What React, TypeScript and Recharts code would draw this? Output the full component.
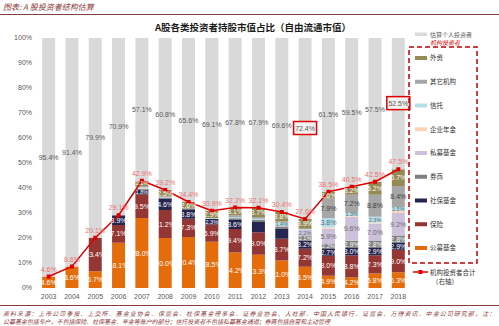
import React from 'react'
import {
  ComposedChart,
  Bar,
  Line,
  XAxis,
  YAxis,
  LabelList,
} from 'recharts'

const years = ['2003', '2004', '2005', '2006', '2007', '2008', '2009', '2010', '2011', '2012', '2013', '2014', '2015', '2016', '2017', '2018']

// institutional holdings, % of free-float market cap (stack order bottom -> top)
const publicFunds = [4.6, 8.6, 6.7, 18.1, 28.0, 20.0, 20.4, 18.5, 14.2, 13.3, 11.0, 8.5, 4.9, 4.2, 5.8, 6.3]
const insurance = [0, 0, 13.4, 7.1, 9.5, 11.2, 7.3, 6.9, 9.4, 9.0, 8.7, 7.2, 8.0, 8.8, 7.3, 9.0]
const socialSecurity = [0, 0, 0, 3.9, 1.8, 4.6, 3.8, 2.3, 3.6, 4.1, 4.1, 3.2, 2.7, 3.0, 2.9, 2.9]
const brokers = [0, 0, 0, 0, 0.4, 0.3, 0, 0, 0.7, 0.8, 0.6, 2.1, 2.2, 2.9, 2.8, 2.8]
const privateFunds = [0, 0, 0, 0, 0, 0, 0, 0, 0, 0, 0.4, 2.2, 5.9, 9.6, 7.0, 9.2]
const pension = [0, 0, 0, 0, 0.2, 0, 0, 0, 0, 0, 0, 0, 0.5, 0.3, 0.4, 0.7]
const trusts = [0, 0, 0, 0, 0.4, 0.2, 0, 0.3, 0.4, 0.5, 1.4, 0.5, 3.8, 1.3, 2.3, 1.5]
const otherInst = [0, 0, 0, 0, 0.5, 0.4, 0.3, 0, 0.8, 0.7, 0.4, 0, 7.9, 7.2, 8.8, 8.4]
const foreign = [0, 0, 0, 0, 2.1, 2.5, 2.6, 2.9, 3.1, 3.7, 3.8, 3.9, 2.6, 3.2, 5.2, 6.7]

const individual = [95.4, 91.4, 79.9, 70.9, 57.1, 60.8, 65.6, 69.1, 67.8, 67.9, 69.6, 72.4, 61.5, 59.5, 57.5, 52.5]
const institutionalTotal = [4.6, 8.6, 20.1, 29.1, 42.9, 39.2, 34.4, 30.9, 32.2, 32.1, 30.4, 27.6, 38.5, 40.5, 42.5, 47.5]

const highlightYears = ['2014', '2018']
const socialNoLabel = ['2009', '2010']

const series = [
  { key: 'publicFunds', name: '公募基金', color: '#e46c0a', text: '#ffffff', values: publicFunds },
  { key: 'insurance', name: '保险', color: '#943634', text: '#ffffff', values: insurance },
  { key: 'socialSecurity', name: '社保基金', color: '#25254f', text: '#ffffff', values: socialSecurity },
  { key: 'brokers', name: '券商', color: '#7f7f7f', text: '#ffffff', values: brokers },
  { key: 'privateFunds', name: '私募基金', color: '#ccc0da', text: '#6d6d6d', values: privateFunds },
  { key: 'pension', name: '企业年金', color: '#fcd5b5', text: '#6d6d6d', values: pension },
  { key: 'trusts', name: '信托', color: '#b7dee8', text: '#4f6f78', values: trusts },
  { key: 'otherInst', name: '其它机构', color: '#a6a6a6', text: '#404040', values: otherInst },
  { key: 'foreign', name: '外资', color: '#948a54', text: '#ffffff', values: foreign },
]

const data = years.map((year, i) => {
  const row: Record<string, any> = { year, individual: individual[i], total: institutionalTotal[i] }
  series.forEach((s) => {
    row[s.key] = s.values[i]
  })
  return row
})

const numFont = '"Liberation Sans", Arial, sans-serif'
const cjkFont = '"Noto Sans CJK SC", sans-serif'

function segLabel(color: string, key: string) {
  return (props: any) => {
    const { x, y, width, height, value, index } = props
    if (!value || value < 1.3) return null
    if (key === 'socialSecurity' && socialNoLabel.includes(years[index])) return null
    // thin segments get a slightly smaller label so neighbours don't collide
    const small = height < 6
    return (
      <text
        x={x + width / 2}
        y={y + height / 2}
        dy={small ? 2 : 2.5}
        textAnchor="middle"
        fontSize={small ? 5.5 : 7}
        fontFamily={numFont}
        fill={color}
      >
        {value.toFixed(1)}%
      </text>
    )
  }
}

function individualLabel(props: any) {
  const { x, y, width, height, value, index } = props
  const cx = x + width / 2
  const cy = y + height / 2
  const boxed = highlightYears.includes(years[index])
  return (
    <g>
      {boxed && (
        <rect x={cx - 11.5} y={cy - 7} width={23} height={13} fill="#f2f2f2" stroke="#e00000" strokeWidth={1.5} />
      )}
      <text x={cx} y={cy} dy={2.5} textAnchor="middle" fontSize={7} fontFamily={numFont} fill="#595959">
        {value.toFixed(1)}%
      </text>
    </g>
  )
}

function SquareDot(props: any) {
  const { cx, cy } = props
  return <rect x={cx - 2} y={cy - 2} width={4} height={4} fill="#e00000" />
}

const legendTop = 58
const legendStep = 23.75

export default function App() {
  const legendItems = [...series].reverse()
  return (
    <div style={{ position: 'absolute', left: 0, top: 0, width: 499, height: 326, background: '#fff' }}>
      <ComposedChart
        width={499}
        height={326}
        data={data}
        margin={{ top: 38, right: 89, bottom: 18, left: 0 }}
        barCategoryGap="22%"
      >
        <XAxis
          dataKey="year"
          axisLine={false}
          tickLine={false}
          tickMargin={0}
          height={20}
          interval={0}
          tick={{ fontSize: 7, fill: '#595959', fontFamily: numFont }}
        />
        <YAxis
          width={37}
          domain={[0, 100]}
          ticks={[0, 10, 20, 30, 40, 50, 60, 70, 80, 90, 100]}
          tickFormatter={(v) => `${v}%`}
          axisLine={false}
          tickLine={false}
          tickSize={2}
          tickMargin={3}
          tick={{ fontSize: 7, fill: '#595959', fontFamily: numFont }}
        />
        {series.map((s) => (
          <Bar key={s.key} dataKey={s.key} stackId="a" fill={s.color} isAnimationActive={false}>
            <LabelList dataKey={s.key} content={segLabel(s.text, s.key)} />
          </Bar>
        ))}
        <Bar dataKey="individual" stackId="a" fill="#d9d9d9" isAnimationActive={false}>
          <LabelList dataKey="individual" content={individualLabel} />
        </Bar>
        <Line
          dataKey="total"
          stroke="#e00000"
          strokeWidth={1.5}
          dot={<SquareDot />}
          activeDot={false}
          isAnimationActive={false}
        >
          <LabelList
            dataKey="total"
            position="top"
            offset={5}
            formatter={(v: any) => `${Number(v).toFixed(1)}%`}
            style={{ fontSize: 7, fill: '#ec7070', fontFamily: numFont }}
          />
        </Line>
      </ComposedChart>

      <svg width={499} height={326} style={{ position: 'absolute', left: 0, top: 0, pointerEvents: 'none' }}>
        <text x={3} y={10} fontSize={8} fontStyle="italic" fontFamily={cjkFont} fill="#8b3a3a">
          图表: A 股投资者结构估算
        </text>
        <line x1={0} x2={499} y1={14.5} y2={14.5} stroke="#7f4040" strokeWidth={1.2} />
        <text x={253} y={30.5} textAnchor="middle" fontSize={9.5} fontWeight="bold" fontFamily={cjkFont} fill="#1a1a1a">
          A股各类投资者持股市值占比（自由流通市值）
        </text>

        <rect x={415} y={32.5} width={12} height={3.5} fill="#d9d9d9" />
        <text x={430} y={36.5} fontSize={6} fontFamily={cjkFont} fill="#595959">估算个人投资者</text>
        <text x={430} y={44.5} fontSize={6} fontStyle="italic" fontFamily={cjkFont} fill="#e00000">机构投资者</text>
        <rect x={409} y={47} width={68} height={216} fill="none" stroke="#c00000" strokeWidth={1.5} strokeDasharray="5 3" />
        {legendItems.map((s, i) => {
          const cy = legendTop + i * legendStep
          return (
            <g key={s.key}>
              <rect x={415} y={cy - 2} width={12} height={4} fill={s.color} />
              <text x={430} y={cy + 2.3} fontSize={6.5} fontFamily={cjkFont} fill="#333">{s.name}</text>
            </g>
          )
        })}
        <line x1={413} x2={428} y1={272} y2={272} stroke="#e00000" strokeWidth={1.5} />
        <rect x={418.5} y={270} width={4} height={4} fill="#e00000" />
        <text x={430} y={274.5} fontSize={6.5} fontFamily={cjkFont} fill="#333">机构投资者合计</text>
        <text x={432} y={284} fontSize={6.5} fontFamily={cjkFont} fill="#333">（右轴）</text>

        <line x1={0} x2={499} y1={305.5} y2={305.5} stroke="#8b3a3a" strokeWidth={1} />
        <text x={3} y={316} fontSize={6} fontStyle="italic" fontFamily={cjkFont} fill="#8b3a3a" textLength={492} lengthAdjust="spacing">
          资料来源：上市公司季报、上交所、基金业协会、保监会、社保基金理事会、证券业协会、人社部、中国人民银行、证监会、万得资讯、中金公司研究部，注：
        </text>
        <text x={3} y={324} fontSize={6} fontStyle="italic" fontFamily={cjkFont} fill="#8b3a3a" textLength={327} lengthAdjust="spacing">
          公募基金包括专户，不包括保险、社保基金、年金等账户的部分；信托投资者不包括私募基金通道；券商包括自营和主动管理
        </text>
      </svg>
    </div>
  )
}
